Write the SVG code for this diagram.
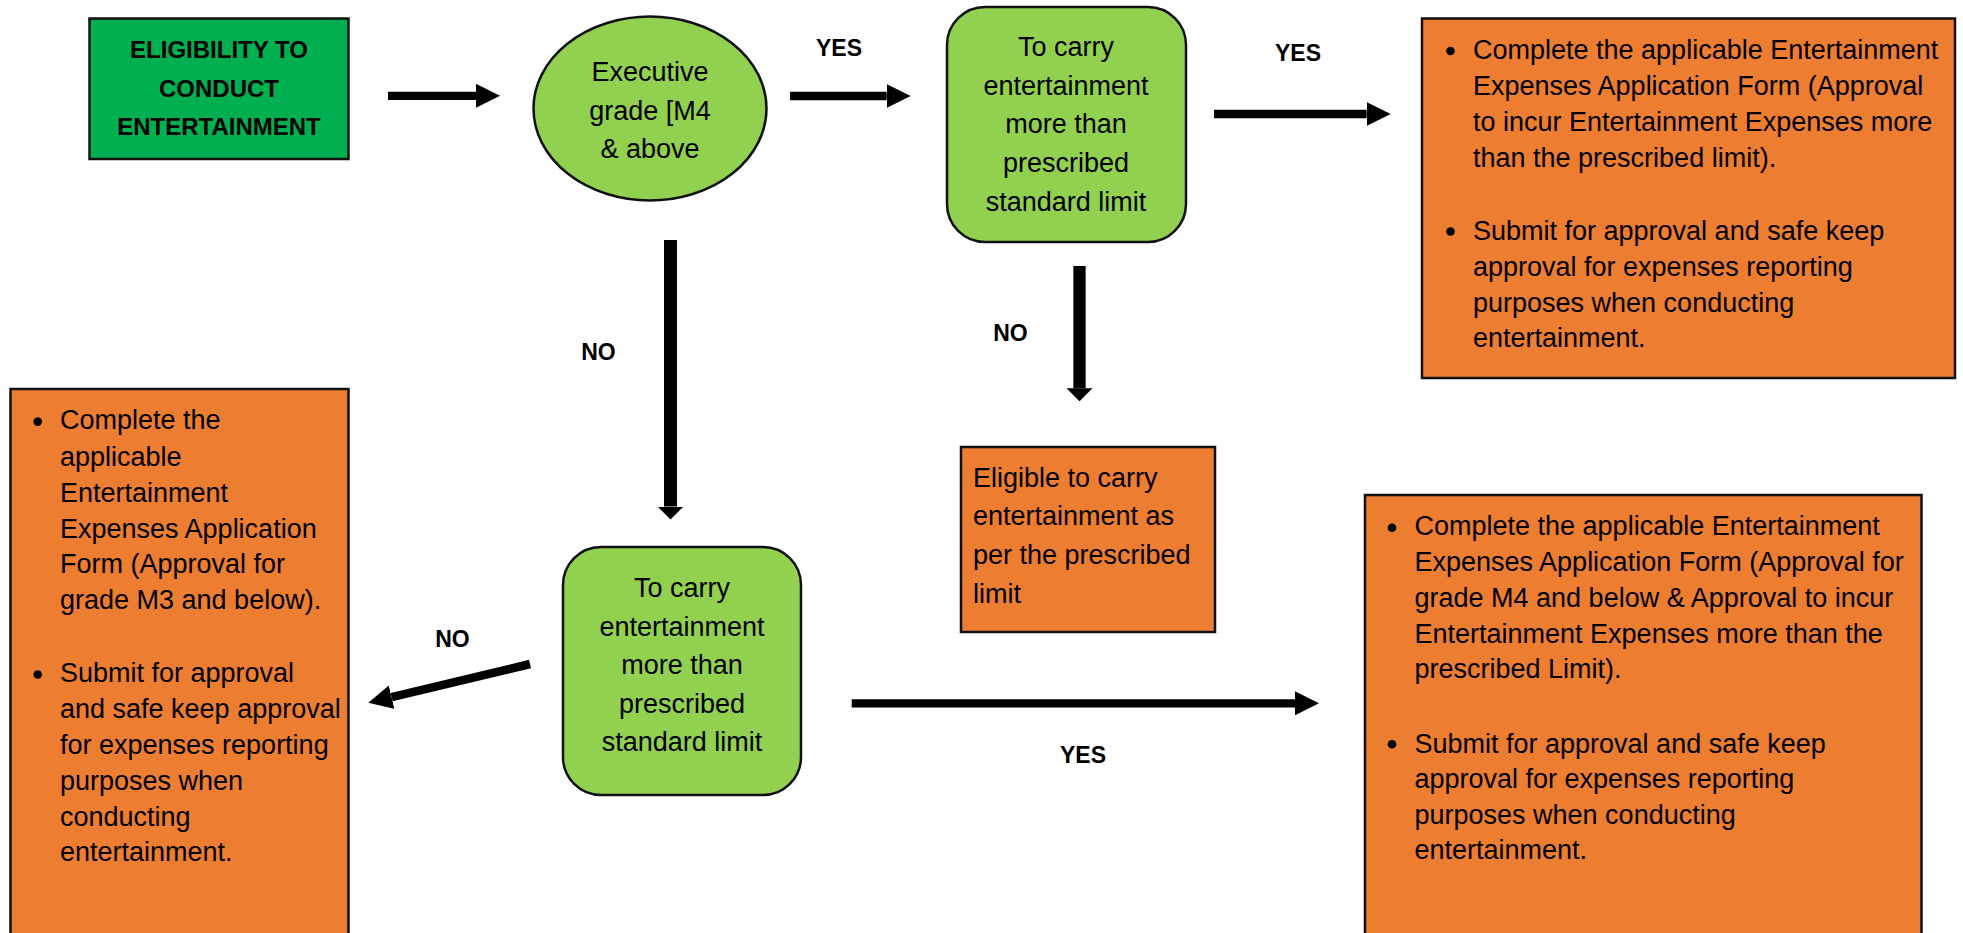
<svg xmlns="http://www.w3.org/2000/svg" width="1963" height="933" viewBox="0 0 1963 933">
<style>
  .t { font-family: "Liberation Sans", Arial, sans-serif; font-size: 27px; fill: #000; }
  .c { text-anchor: middle; }
  .h { font-family: "Liberation Sans", Arial, sans-serif; font-size: 24px; font-weight: bold; fill: #000; text-anchor: middle; }
  .lbl { font-family: "Liberation Sans", Arial, sans-serif; font-size: 23px; font-weight: bold; fill: #000; text-anchor: middle; }
  .dark { fill: #00B050; stroke: #111; stroke-width: 2.5; }
  .light { fill: #92D050; stroke: #111; stroke-width: 2.5; }
  .orange { fill: #ED7D31; stroke: #111; stroke-width: 2.5; }
  .arr { stroke: #000; fill: none; stroke-linecap: butt; }
  .dot { fill: #000; }
</style>
<defs>
  <marker id="ah" markerUnits="userSpaceOnUse" viewBox="0 0 24 24" markerWidth="24" markerHeight="24" refX="0" refY="12" orient="auto">
    <path d="M0,0 L24,12 L0,24 Z" fill="#000"/>
  </marker>
  <marker id="ahv" markerUnits="userSpaceOnUse" viewBox="0 0 13 26" markerWidth="13" markerHeight="26" refX="0" refY="13" orient="auto">
    <path d="M0,0 L13,13 L0,26 Z" fill="#000"/>
  </marker>
</defs>
<rect width="1963" height="933" fill="#fff"/>

<g id="connectors">
  <line class="arr" x1="388" y1="95.8" x2="476" y2="95.8" stroke-width="8.3" marker-end="url(#ah)"/>
  <line class="arr" x1="790" y1="96" x2="886.7" y2="96" stroke-width="8.3" marker-end="url(#ah)"/>
  <line class="arr" x1="1214" y1="114" x2="1366.7" y2="114" stroke-width="8.3" marker-end="url(#ah)"/>
  <line class="arr" x1="670.5" y1="240" x2="670.5" y2="506.5" stroke-width="13" marker-end="url(#ahv)"/>
  <line class="arr" x1="1079.5" y1="266" x2="1079.5" y2="388.3" stroke-width="12.3" marker-end="url(#ahv)"/>
  <line class="arr" x1="530" y1="664" x2="391.6" y2="697.1" stroke-width="8.5" marker-end="url(#ah)"/>
  <line class="arr" x1="851.7" y1="703.3" x2="1295" y2="703.3" stroke-width="8.3" marker-end="url(#ah)"/>
  <text class="lbl" x="839" y="56">YES</text>
  <text class="lbl" x="1298" y="61">YES</text>
  <text class="lbl" x="598.5" y="360">NO</text>
  <text class="lbl" x="1010.5" y="340.5">NO</text>
  <text class="lbl" x="452.5" y="647">NO</text>
  <text class="lbl" x="1083" y="763">YES</text>
</g>

<g id="start">
  <rect class="dark" x="89.5" y="18.5" width="259" height="140.5"/>
  <text class="h" x="219" y="58.3">ELIGIBILITY TO</text>
  <text class="h" x="219" y="96.7">CONDUCT</text>
  <text class="h" x="219" y="135">ENTERTAINMENT</text>
</g>

<g id="grade">
  <ellipse class="light" cx="650" cy="108.5" rx="116.5" ry="92" stroke-width="2"/>
  <text class="t c" x="650" y="81">Executive</text>
  <text class="t c" x="650" y="120">grade [M4</text>
  <text class="t c" x="650" y="158.3">&amp; above</text>
</g>

<g id="limit-top">
  <rect class="light" x="947" y="7" width="239" height="235" rx="38" ry="38"/>
  <text class="t c" x="1066" y="56">To carry</text>
  <text class="t c" x="1066" y="95">entertainment</text>
  <text class="t c" x="1066" y="133.3">more than</text>
  <text class="t c" x="1066" y="171.7">prescribed</text>
  <text class="t c" x="1066" y="210.7">standard limit</text>
</g>

<g id="above-limit-form">
  <rect class="orange" x="1422" y="18.5" width="533" height="359.5"/>
  <circle class="dot" cx="1450.5" cy="51" r="4.3"/>
  <circle class="dot" cx="1450.5" cy="231.5" r="4.3"/>
  <text class="t" x="1473" y="59.3">Complete the applicable Entertainment</text>
  <text class="t" x="1473" y="95.2">Expenses Application Form (Approval</text>
  <text class="t" x="1473" y="131">to incur Entertainment Expenses more</text>
  <text class="t" x="1473" y="166.7">than the prescribed limit).</text>
  <text class="t" x="1473" y="240">Submit for approval and safe keep</text>
  <text class="t" x="1473" y="276">approval for expenses reporting</text>
  <text class="t" x="1473" y="311.7">purposes when conducting</text>
  <text class="t" x="1473" y="346.7">entertainment.</text>
</g>

<g id="eligible">
  <rect class="orange" x="961" y="447" width="254" height="185"/>
  <text class="t" x="973" y="486.7">Eligible to carry</text>
  <text class="t" x="973" y="525">entertainment as</text>
  <text class="t" x="973" y="564">per the prescribed</text>
  <text class="t" x="973" y="602.7">limit</text>
</g>

<g id="limit-bottom">
  <rect class="light" x="563" y="547" width="238" height="248" rx="38" ry="38"/>
  <text class="t c" x="682" y="596.7">To carry</text>
  <text class="t c" x="682" y="636">entertainment</text>
  <text class="t c" x="682" y="674">more than</text>
  <text class="t c" x="682" y="712.7">prescribed</text>
  <text class="t c" x="682" y="751">standard limit</text>
</g>

<g id="m3-form">
  <rect class="orange" x="10.5" y="389" width="338" height="560"/>
  <circle class="dot" cx="37.7" cy="421.6" r="4.3"/>
  <circle class="dot" cx="37.7" cy="674.5" r="4.3"/>
  <text class="t" x="60" y="429.4">Complete the</text>
  <text class="t" x="60" y="465.7">applicable</text>
  <text class="t" x="60" y="501.7">Entertainment</text>
  <text class="t" x="60" y="537.7">Expenses Application</text>
  <text class="t" x="60" y="573.3">Form (Approval for</text>
  <text class="t" x="60" y="609.3">grade M3 and below).</text>
  <text class="t" x="60" y="682.3">Submit for approval</text>
  <text class="t" x="60" y="717.9">and safe keep approval</text>
  <text class="t" x="60" y="753.9">for expenses reporting</text>
  <text class="t" x="60" y="790.2">purposes when</text>
  <text class="t" x="60" y="826.2">conducting</text>
  <text class="t" x="60" y="861.4">entertainment.</text>
</g>

<g id="m4-form">
  <rect class="orange" x="1365" y="495" width="556.5" height="460"/>
  <circle class="dot" cx="1392" cy="527.7" r="4.3"/>
  <circle class="dot" cx="1392" cy="744.3" r="4.3"/>
  <text class="t" x="1414.5" y="535">Complete the applicable Entertainment</text>
  <text class="t" x="1414.5" y="571">Expenses Application Form (Approval for</text>
  <text class="t" x="1414.5" y="607">grade M4 and below &amp; Approval to incur</text>
  <text class="t" x="1414.5" y="643.3">Entertainment Expenses more than the</text>
  <text class="t" x="1414.5" y="678.3">prescribed Limit).</text>
  <text class="t" x="1414.5" y="752.7">Submit for approval and safe keep</text>
  <text class="t" x="1414.5" y="788.3">approval for expenses reporting</text>
  <text class="t" x="1414.5" y="824">purposes when conducting</text>
  <text class="t" x="1414.5" y="859.3">entertainment.</text>
</g>
</svg>
